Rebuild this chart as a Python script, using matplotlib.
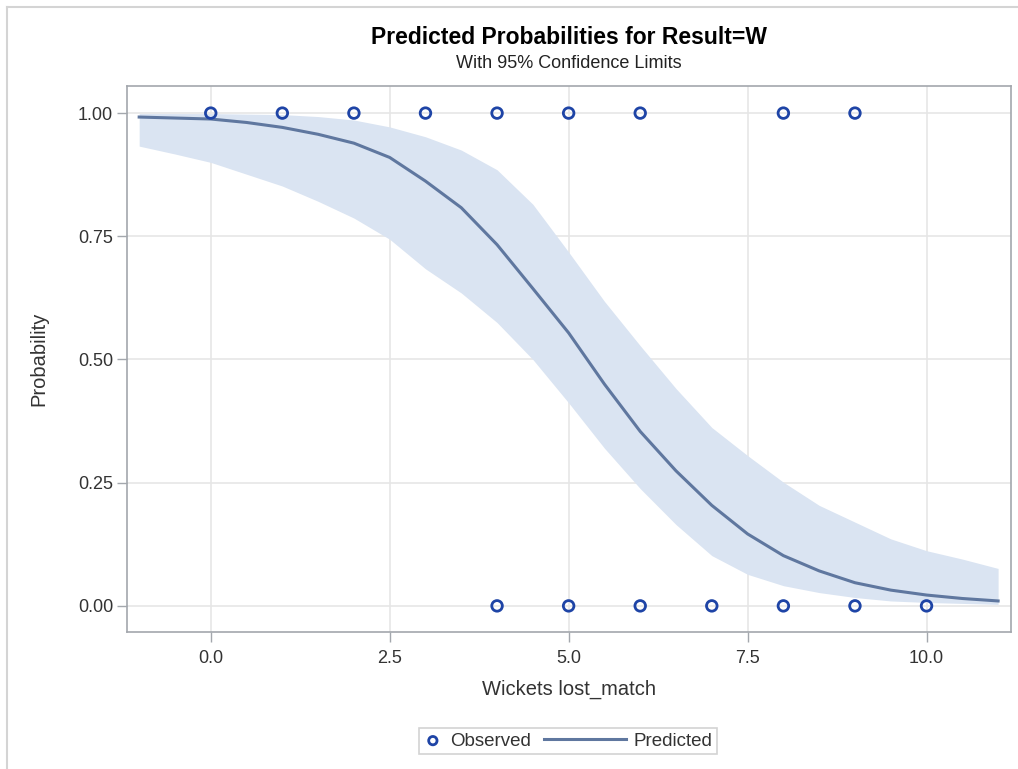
import numpy as np
import matplotlib.pyplot as plt
from matplotlib.lines import Line2D
from matplotlib.legend_handler import HandlerLine2D

plt.rcParams['font.family'] = ['Liberation Sans', 'DejaVu Sans']

# predicted curve and 95% limits
wickets = [-1.0, -0.5, 0.0, 0.5, 1.0, 1.5, 2.0, 2.5, 3.0, 3.5, 4.0, 4.5, 5.0, 5.5,
           6.0, 6.5, 7.0, 7.5, 8.0, 8.5, 9.0, 9.5, 10.0, 10.5, 11.0]
predicted = [0.992, 0.990, 0.988, 0.981, 0.971, 0.957, 0.939, 0.910, 0.862, 0.808,
             0.733, 0.644, 0.554, 0.450, 0.354, 0.274, 0.204, 0.146, 0.102, 0.071,
             0.047, 0.032, 0.022, 0.015, 0.010]
upper = [0.999, 0.999, 0.999, 0.998, 0.997, 0.993, 0.986, 0.972, 0.952, 0.925,
         0.885, 0.815, 0.718, 0.618, 0.528, 0.441, 0.362, 0.305, 0.251, 0.204,
         0.170, 0.136, 0.112, 0.095, 0.076]
lower = [0.933, 0.917, 0.900, 0.876, 0.852, 0.821, 0.787, 0.744, 0.684, 0.635,
         0.575, 0.500, 0.412, 0.320, 0.238, 0.165, 0.102, 0.064, 0.041, 0.027,
         0.017, 0.010, 0.007, 0.005, 0.003]

# observed outcomes (W=1, otherwise 0)
obs_win_x = [0, 1, 2, 3, 4, 5, 6, 8, 9]
obs_loss_x = [4, 5, 6, 7, 8, 9, 10]

xticks = [0.0, 2.5, 5.0, 7.5, 10.0]
yticks = [0.0, 0.25, 0.5, 0.75, 1.0]


class LongLine(HandlerLine2D):
    # legend line that reaches further left than the handle box
    def create_artists(self, legend, orig_handle, xdescent, ydescent, width,
                       height, fontsize, trans):
        y = height / 2 - ydescent
        ln = Line2D([-xdescent - 3.4 * fontsize, width - xdescent], [y, y],
                    color=orig_handle.get_color(), lw=orig_handle.get_linewidth())
        ln.set_transform(trans)
        return [ln]


fig = plt.figure(figsize=(10.18, 7.69), dpi=100)
ax = fig.add_axes([127/1018, 1-632/769, (1011-127)/1018, (632-86)/769])

ax.fill_between(wickets, lower, upper, color='#dae4f2', lw=0, zorder=1)
pred_line, = ax.plot(wickets, predicted, color='#5f779f', lw=2.2, zorder=3,
                     label='Predicted')
obs = ax.scatter(obs_win_x, [1]*len(obs_win_x), s=58, facecolors='none',
                 edgecolors='#1e44a6', linewidths=2.0, zorder=4, label='Observed')
ax.scatter(obs_loss_x, [0]*len(obs_loss_x), s=58, facecolors='none',
           edgecolors='#1e44a6', linewidths=2.0, zorder=4)

ax.set_xlim(-1.17, 11.18)
ax.set_ylim(-0.053, 1.055)
ax.set_xticks(xticks)
ax.set_xticklabels(['%.1f' % v for v in xticks])
ax.set_yticks(yticks)
ax.set_yticklabels(['%.2f' % v for v in yticks])
ax.grid(color='#e6e6e6', lw=1.2, zorder=0)
ax.set_axisbelow(True)
for sp in ax.spines.values():
    sp.set_color('#a3a7ad')
    sp.set_linewidth(1.2)
ax.tick_params(length=7, width=1, color='#a3a7ad', labelsize=13,
               labelcolor='#333333')
ax.tick_params(axis='x', pad=6)
ax.tick_params(axis='y', pad=3)

ax.set_xlabel('Wickets lost_match', fontsize=14.5, color='#333333', labelpad=9)
ax.set_ylabel('Probability', fontsize=14.5, color='#333333', labelpad=21)

fig.text(0.559, 1-38/769, 'Predicted Probabilities for Result=W', ha='center',
         va='center', fontsize=16.5, fontweight='bold')
fig.text(0.559, 1-64/769, 'With 95% Confidence Limits', ha='center', va='center',
         fontsize=13, color='#222222')

leg = fig.legend([obs, pred_line], ['Observed', 'Predicted'], loc='center',
                 bbox_to_anchor=(0.558, 1-741/769), ncol=2, fontsize=13.5,
                 frameon=True, fancybox=False, edgecolor='#c8c8c8',
                 handlelength=1.0, columnspacing=4.1, handletextpad=0.4,
                 borderpad=0.25, borderaxespad=0,
                 handler_map={pred_line: LongLine()})
leg.legend_handles[0].set_sizes([36])
leg.get_frame().set_linewidth(1.2)
for t in leg.get_texts():
    t.set_color('#333333')

# light outer frame along the top and left
fig.add_artist(Line2D([7/1018, 1], [1-7/769, 1-7/769], color='#d4d4d4', lw=1.5))
fig.add_artist(Line2D([7/1018, 7/1018], [0, 1-7/769], color='#d4d4d4', lw=1.5))

fig.savefig('out.png', dpi=100)
